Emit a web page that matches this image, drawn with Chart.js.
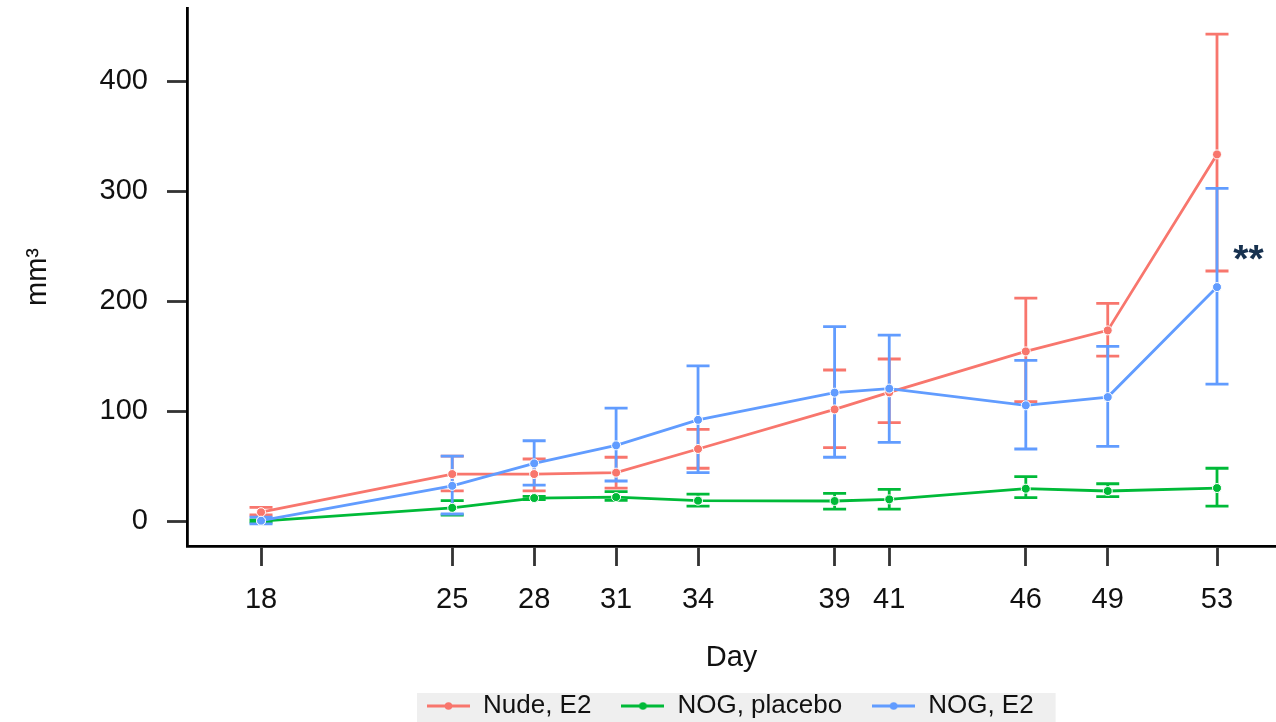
<!DOCTYPE html>
<html>
<head>
<meta charset="utf-8">
<script src="https://cdn.jsdelivr.net/npm/chart.js@4/dist/chart.umd.min.js"></script>
<style>
  html, body { margin: 0; padding: 0; background: #ffffff; }
  #wrap { width: 1276px; height: 722px; position: relative; }
</style>
</head>
<body>
<div id="wrap"><canvas id="c" width="1276" height="722"></canvas></div>
<script>
// ---- data ----
const days = [18, 25, 28, 31, 34, 39, 41, 46, 49, 53];
const yTicks = [0, 100, 200, 300, 400];
const seriesNames = ['Nude, E2', 'NOG, placebo', 'NOG, E2'];
const seriesColors = ['#F8766D', '#00BA38', '#619CFF'];

const nudeE2    = [8, 42.7, 42.7, 44, 65.5, 101.5, 117, 154.2, 173.3, 333.3];
const nudeE2Lo  = [5.5, 27.5, 27.5, 30, 48, 66.7, 89.4, 108.5, 150, 227.3];
const nudeE2Hi  = [12.4, 59, 56.4, 58, 83.4, 137.3, 147.3, 202.7, 197.9, 442.7];

const nogPlacebo   = [0, 12, 20.9, 21.8, 18.5, 18.2, 19.7, 29.4, 27.3, 30];
const nogPlaceboLo = [-1, 5.5, 19.5, 18.8, 13.6, 10.9, 10.9, 21.2, 22.1, 13.6];
const nogPlaceboHi = [1, 18.5, 22.5, 26.7, 24.5, 25.1, 28.8, 40.3, 33.9, 48];

const nogE2   = [0.3, 32, 52.4, 68.8, 92, 116.7, 120.4, 105.2, 112.7, 212.7];
const nogE2Lo = [-2.5, 6.4, 32.7, 36.4, 44, 58, 71.5, 65.5, 67.9, 124.5];
const nogE2Hi = [3.6, 59, 73, 102.7, 141, 176.7, 169, 146, 158.8, 302.4];

const signifText = '**';
const signifDay = 54.15;
const signifValue = 226;

const xMin = 15.29, xMax = 55.16;
const yMin = -22.7, yMax = 466.4;

// ---- build ----
const FONT = "'Liberation Sans', Arial, sans-serif";
Chart.defaults.font.family = FONT;

const values = [nudeE2, nogPlacebo, nogE2];
const lows = [nudeE2Lo, nogPlaceboLo, nogE2Lo];
const highs = [nudeE2Hi, nogPlaceboHi, nogE2Hi];
const orders = [3, 2, 1];

function legendSwatch(color) {
  const c = document.createElement('canvas');
  c.width = 43; c.height = 12;
  const g = c.getContext('2d');
  g.strokeStyle = color; g.lineWidth = 2.8;
  g.beginPath(); g.moveTo(0, 6); g.lineTo(43, 6); g.stroke();
  g.fillStyle = color;
  g.beginPath(); g.arc(21.5, 6, 3.8, 0, Math.PI * 2); g.fill();
  return c;
}
const swatches = seriesColors.map(legendSwatch);

const datasets = seriesNames.map((name, s) => ({
  label: name,
  data: days.map((d, i) => ({ x: d, y: values[s][i] })),
  borderColor: seriesColors[s],
  backgroundColor: seriesColors[s],
  borderWidth: 2.8,
  pointRadius: 4.5,
  pointBorderColor: '#ffffff',
  pointBorderWidth: 1,
  pointBackgroundColor: seriesColors[s],
  tension: 0,
  order: orders[s],
  clip: false
}));

const errorBarPlugin = {
  id: 'errorBars',
  beforeDatasetsDraw(chart) {
    const { ctx } = chart;
    const xs = chart.scales.x, ys = chart.scales.y;
    ctx.save();
    ctx.lineWidth = 2.8;
    const cap = 11.5;
    for (let s = 0; s < values.length; s++) {
      ctx.strokeStyle = seriesColors[s];
      for (let i = 0; i < days.length; i++) {
        const x = xs.getPixelForValue(days[i]);
        const yl = ys.getPixelForValue(lows[s][i]);
        const yh = ys.getPixelForValue(highs[s][i]);
        ctx.beginPath();
        ctx.moveTo(x, yl); ctx.lineTo(x, yh);
        ctx.moveTo(x - cap, yl); ctx.lineTo(x + cap, yl);
        ctx.moveTo(x - cap, yh); ctx.lineTo(x + cap, yh);
        ctx.stroke();
      }
    }
    ctx.restore();
  },
  afterDatasetsDraw(chart) {
    const { ctx } = chart;
    const x = chart.scales.x.getPixelForValue(signifDay);
    const y = chart.scales.y.getPixelForValue(signifValue);
    ctx.save();
    ctx.font = 'bold 39px ' + FONT;
    ctx.fillStyle = '#17314f';
    ctx.textAlign = 'center';
    ctx.textBaseline = 'alphabetic';
    ctx.fillText(signifText, x, y);
    ctx.restore();
  }
};

const legendLayoutPlugin = {
  id: 'legendLayout',
  beforeUpdate(chart) {
    const L = chart.legend;
    if (L && !L._wrappedFit) {
      const orig = L.fit.bind(L);
      L.fit = function () { orig(); this.height = 30; };
      L._wrappedFit = true;
    }
  },
  afterLayout(chart) {
    const L = chart.legend;
    if (!L || !L.lineWidths) return;
    const pad = 30;
    const start = (L.left + pad + L.right - L.lineWidths[0]) / 2;
    const d = 427 - start;
    L.left += d; L.right += d;
    L.top -= 29;
    L.bottom = 722;
  },
  beforeDraw(chart) {
    const L = chart.legend;
    if (!L || !L.legendHitBoxes || !L.legendHitBoxes.length) return;
    const hb = L.legendHitBoxes;
    const left = hb[0].left - 10;
    const last = hb[hb.length - 1];
    const right = last.left + last.width + 22;
    const { ctx } = chart;
    ctx.save();
    ctx.fillStyle = '#efefef';
    ctx.fillRect(left, 693, right - left, 40);
    ctx.restore();
  }
};

new Chart(document.getElementById('c'), {
  type: 'line',
  data: { datasets },
  plugins: [errorBarPlugin, legendLayoutPlugin],
  options: {
    responsive: false,
    animation: false,
    events: [],
    layout: { autoPadding: false, padding: { top: 8, left: 0, right: 0, bottom: 0 } },
    plugins: {
      tooltip: { enabled: false },
      legend: {
        position: 'bottom',
        labels: {
          font: { size: 26, family: FONT },
          color: '#111',
          usePointStyle: true,
          pointStyleWidth: 43,
          boxHeight: 12,
          padding: 30,
          generateLabels(chart) {
            return chart.data.datasets.map((ds, i) => ({
              text: ds.label,
              fillStyle: seriesColors[i],
              strokeStyle: seriesColors[i],
              lineWidth: 0,
              pointStyle: swatches[i],
              hidden: false,
              datasetIndex: i,
              fontColor: '#111'
            }));
          }
        }
      }
    },
    scales: {
      x: {
        type: 'linear',
        min: xMin, max: xMax,
        afterBuildTicks(scale) { scale.ticks = days.map(v => ({ value: v })); },
        afterFit(scale) { scale.height = 146; scale.paddingLeft = 0; scale.paddingRight = 0; },
        ticks: {
          autoSkip: false, maxRotation: 0,
          font: { size: 29, family: FONT }, color: '#111', padding: 16.5,
          callback: v => String(v)
        },
        grid: { drawOnChartArea: false, drawTicks: true, tickLength: 20, tickColor: '#333', tickWidth: 2.8 },
        border: { display: true, color: '#000', width: 2.8 },
        title: { display: true, text: 'Day', font: { size: 29, family: FONT }, color: '#111', padding: { top: 0, bottom: 16.6 } }
      },
      y: {
        type: 'linear',
        min: yMin, max: yMax,
        afterBuildTicks(scale) { scale.ticks = yTicks.map(v => ({ value: v })); },
        afterFit(scale) { scale.width = 187; scale.paddingTop = 0; scale.paddingBottom = 0; },
        ticks: {
          font: { size: 29, family: FONT }, color: '#111', padding: 19,
          callback: v => String(v)
        },
        grid: { drawOnChartArea: false, drawTicks: true, tickLength: 20, tickColor: '#333', tickWidth: 2.8 },
        border: { display: true, color: '#000', width: 2.8 },
        title: { display: true, text: 'mm³', font: { size: 29, family: FONT }, color: '#111', padding: { top: 20.6, bottom: 0 } }
      }
    }
  }
});
</script>
</body>
</html>
